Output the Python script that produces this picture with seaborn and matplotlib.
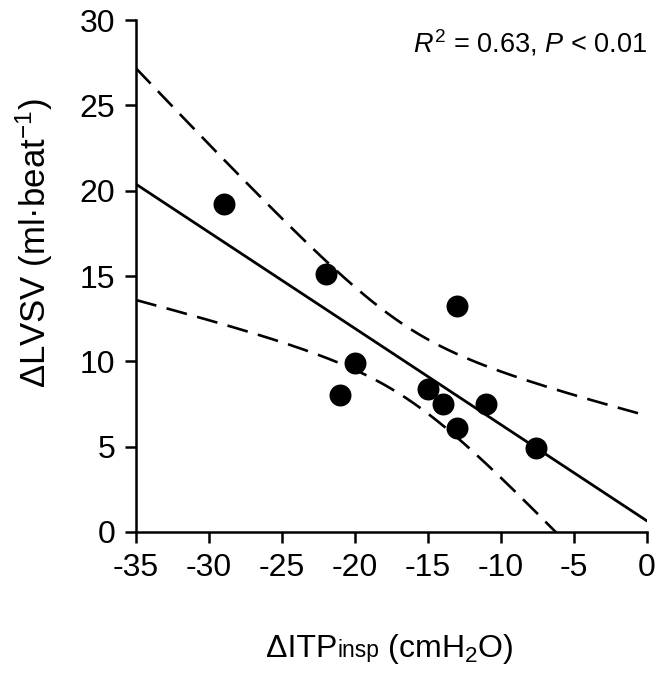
import matplotlib
matplotlib.use("Agg")
import matplotlib.pyplot as plt
import numpy as np
import pandas as pd
import seaborn as sns

# values
itp_insp = [-29, -22, -21, -20, -15, -14, -13, -13, -11, -7.6]
lvsv = [19.2, 15.1, 8.0, 9.9, 8.4, 7.5, 13.25, 6.1, 7.5, 4.9]
r2_text = "$R^2$ = 0.63, $P$ < 0.01"
x_ticks = [-35, -30, -25, -20, -15, -10, -5, 0]
y_ticks = [0, 5, 10, 15, 20, 25, 30]

sns.set_theme(style="ticks")
plt.rcParams["font.family"] = ["Liberation Sans", "DejaVu Sans"]
plt.rcParams["mathtext.fontset"] = "custom"
plt.rcParams["mathtext.rm"] = "Liberation Sans"
plt.rcParams["mathtext.it"] = "Liberation Sans:italic"
plt.rcParams["mathtext.bf"] = "Liberation Sans:bold"

df = pd.DataFrame({"x": itp_insp, "y": lvsv})

# least squares fit with 95% confidence band of the mean
x = np.asarray(itp_insp, dtype=float)
y = np.asarray(lvsv, dtype=float)
n = len(x)
slope, intercept = np.polyfit(x, y, 1)
resid = y - (slope * x + intercept)
s = np.sqrt(np.sum(resid ** 2) / (n - 2))
sxx = np.sum((x - x.mean()) ** 2)
t_crit = 2.306  # t(0.975, df=8)
grid = np.linspace(-35, 0, 200)
fit = slope * grid + intercept
half = t_crit * s * np.sqrt(1.0 / n + (grid - x.mean()) ** 2 / sxx)
fit_df = pd.DataFrame({"x": grid, "fit": fit, "lo": fit - half, "hi": fit + half})

fig = plt.figure(figsize=(6.64, 6.74), dpi=100)
ax = fig.add_axes([0.2048, 0.2107, 0.7696, 0.7596])

sns.lineplot(data=fit_df, x="x", y="fit", ax=ax, color="black", lw=2.0)
sns.lineplot(data=fit_df, x="x", y="hi", ax=ax, color="black", lw=1.9,
             linestyle=(0, (8, 4)))
sns.lineplot(data=fit_df, x="x", y="lo", ax=ax, color="black", lw=1.9,
             linestyle=(0, (8, 4)))
sns.scatterplot(data=df, x="x", y="y", ax=ax, color="black", s=250,
                edgecolor="black", linewidth=0, zorder=5)

ax.set_xlim(-35, 0)
ax.set_ylim(0, 30)
ax.set_xticks(x_ticks)
ax.set_yticks(y_ticks)
ax.set_xticklabels([str(v) for v in x_ticks])
ax.set_yticklabels([str(v) for v in y_ticks])
ax.tick_params(direction="out", length=8, width=1.8, labelsize=23, color="black",
               labelcolor="black", pad=7)
sns.despine(ax=ax)
for side in ["left", "bottom"]:
    ax.spines[side].set_linewidth(1.8)
    ax.spines[side].set_color("black")

ax.set_xlabel("")
ax.set_ylabel("ΔLVSV (ml·beat$^{\\mathregular{-1}}$)", fontsize=25, color="black")
ax.yaxis.set_label_coords(-0.158, 0.565)

ax.text(1.0, 0.955, r2_text, transform=ax.transAxes, ha="right", va="center",
        fontsize=19.5, color="black")

# x label built from pieces so that "insp" sits on the baseline in a smaller size
base_y = (674 - 657) / 674
pieces = [("ΔITP", 23), ("insp", 16.5), (" (cmH$_\\mathregular{2}$O)", 23)]
texts = [fig.text(0, base_y, p, fontsize=fs, va="baseline", ha="left", color="black")
         for p, fs in pieces]
fig.canvas.draw()
renderer = fig.canvas.get_renderer()
widths = [t.get_window_extent(renderer).width for t in texts]
start = 390 - sum(widths) / 2
for t, w in zip(texts, widths):
    t.set_x(start / 664)
    start += w

fig.savefig("out.png", dpi=100)
